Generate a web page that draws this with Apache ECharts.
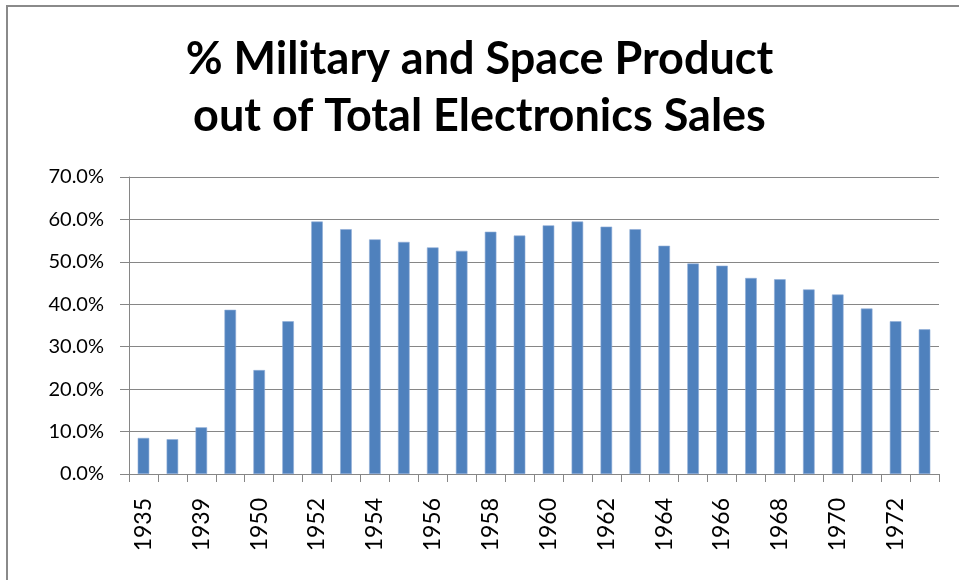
<!DOCTYPE html>
<html>
<head>
<meta charset="utf-8">
<script src="https://cdn.jsdelivr.net/npm/echarts@6/dist/echarts.min.js"></script>
<style>
html,body{margin:0;padding:0;background:#fff;}
#frame{position:absolute;left:6px;top:5px;width:1000px;height:700px;border:2px solid #8a8a8a;box-sizing:border-box;}
#chart{position:absolute;left:0;top:0;width:959px;height:580px;}
</style>
</head>
<body>
<div id="frame"></div>
<div id="chart"></div>
<script>
const categories = ['1935','1937','1939','1945','1950','1951','1952','1953','1954','1955','1956','1957','1958','1959','1960','1961','1962','1963','1964','1965','1966','1967','1968','1969','1970','1971','1972','1973'];
const militaryShare = [8.5, 8.2, 11.0, 38.7, 24.5, 36.0, 59.5, 57.7, 55.3, 54.7, 53.4, 52.6, 57.1, 56.2, 58.6, 59.5, 58.3, 57.7, 53.8, 49.6, 49.1, 46.2, 45.9, 43.5, 42.3, 39.0, 36.0, 34.1];
const titleText = '% Military and Space Product\nout of Total Electronics Sales';

const chart = echarts.init(document.getElementById('chart'), null, {renderer:'canvas'});
chart.setOption({
  animation: false,
  backgroundColor: 'transparent',
  title: {
    text: titleText,
    left: 'center',
    top: 26,
    textStyle: {fontFamily: 'Lato', fontWeight: 'bold', fontSize: 45, lineHeight: 57, color: '#000'}
  },
  grid: {left: 129, right: 20, top: 177, bottom: 106, containLabel: false},
  xAxis: {
    type: 'category',
    data: categories,
    boundaryGap: true,
    axisLine: {lineStyle: {color: '#868686', width: 1}},
    axisTick: {show: true, inside: false, length: 8, interval: 0, alignWithLabel: false, lineStyle: {color: '#868686'}},
    axisLabel: {interval: 1, rotate: 90, margin: 24, fontFamily: 'Lato', fontSize: 23, color: '#000'},
    splitLine: {show: false}
  },
  yAxis: {
    type: 'value',
    min: 0, max: 70, interval: 10,
    axisLine: {show: true, lineStyle: {color: '#868686', width: 1}},
    axisTick: {show: true, inside: false, length: 9, lineStyle: {color: '#868686'}},
    axisLabel: {margin: 25, fontFamily: 'Lato', fontSize: 20, color: '#000', formatter: v => v.toFixed(1) + '%'},
    splitLine: {show: true, lineStyle: {color: '#868686', width: 1}}
  },
  series: [{
    type: 'bar',
    data: militaryShare,
    barWidth: '40%',
    itemStyle: {color: '#4F81BD', borderColor: '#8FADD6', borderWidth: 0.6}
  }]
});
</script>
</body>
</html>
